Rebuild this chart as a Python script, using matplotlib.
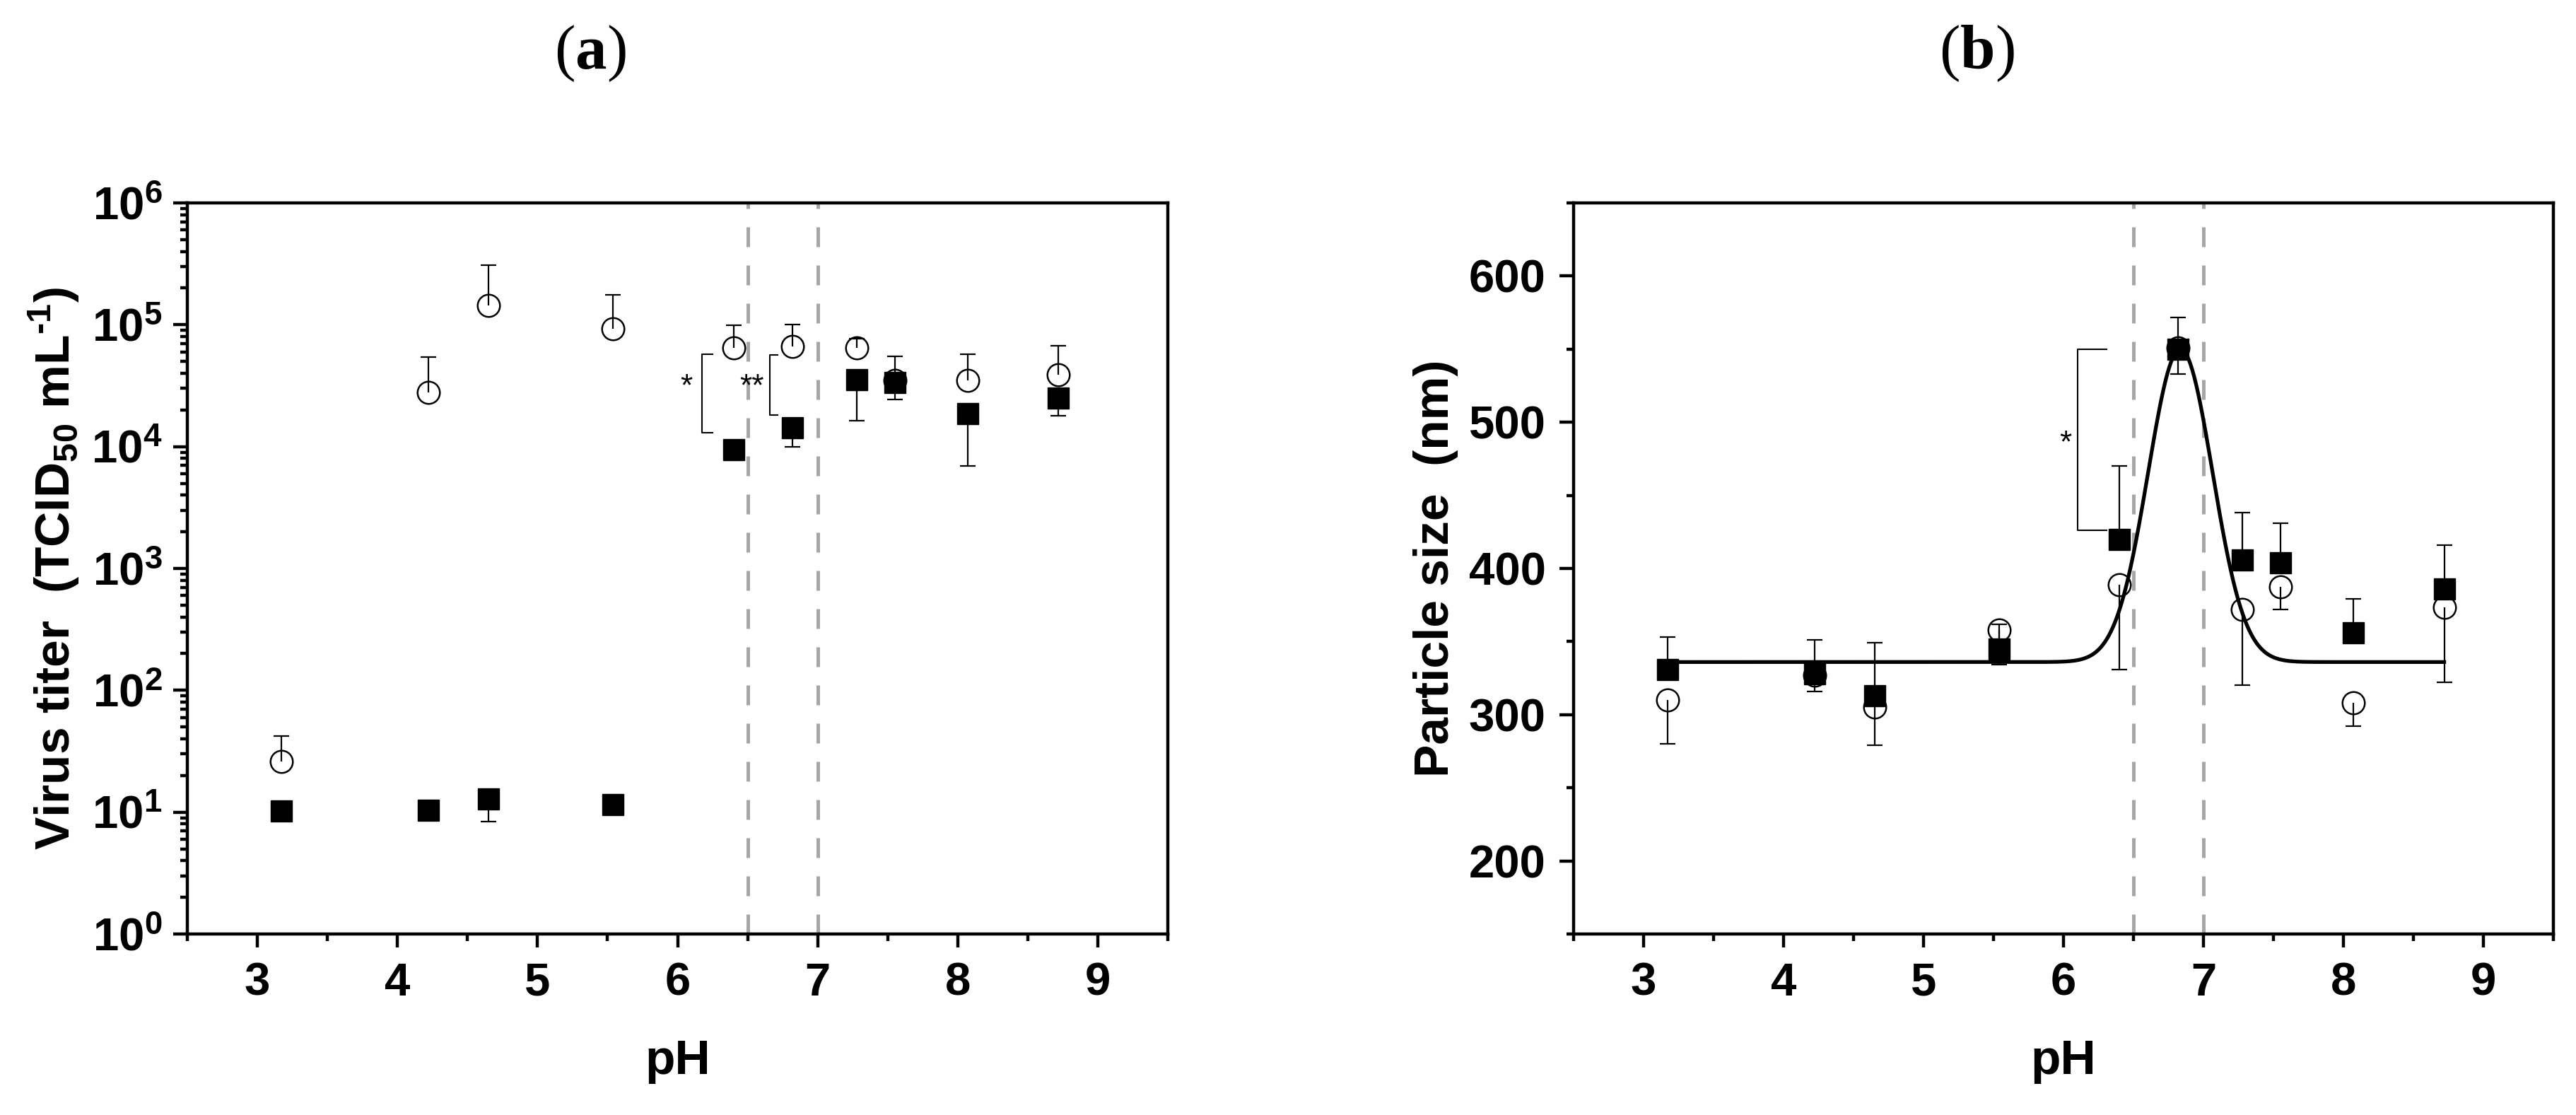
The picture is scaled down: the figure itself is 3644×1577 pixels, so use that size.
import numpy as np
import matplotlib
matplotlib.use("Agg")
import matplotlib.pyplot as plt
from matplotlib.ticker import MultipleLocator, LogLocator, NullFormatter

plt.rcParams['font.family'] = ['Liberation Sans', 'DejaVu Sans']
plt.rcParams['font.weight'] = 'bold'
plt.rcParams['mathtext.fontset'] = 'custom'
plt.rcParams['mathtext.bf'] = 'Liberation Serif:bold'
plt.rcParams['mathtext.rm'] = 'Liberation Sans:bold'

# ---------------- data ----------------
pH = np.array([3.17, 4.22, 4.65, 5.54, 6.40, 6.82, 7.28, 7.55, 8.07, 8.72])

# panel (a): virus titer (TCID50/mL)
titer_circle = np.array([26, 2.8e4, 1.45e5, 9.3e4, 6.5e4, 6.6e4, 6.5e4, 3.5e4, 3.5e4, 3.9e4])
titer_circle_hi = np.array([42, 5.4e4, 3.1e5, 1.75e5, 9.9e4, 1.01e5, 7.7e4, 5.5e4, 5.7e4, 6.7e4])
titer_square = np.array([10.2, 10.3, 12.9, 11.6, 9.5e3, 1.42e4, 3.56e4, 3.34e4, 1.86e4, 2.5e4])
titer_square_lo = np.array([np.nan, np.nan, 8.4, np.nan, np.nan, 1.0e4, 1.64e4, 2.43e4, 6.98e3, 1.8e4])

# panel (b): particle size (nm)
size_square = np.array([331, 328, 313, 345, 420, 550, 406, 404, 356, 386])
size_square_hi = np.array([353, 351, 349, 362, 470, 571.5, 438, 431, 379, 416])
size_circle = np.array([310, 327, 305, 358, 389, 551, 372, 387.5, 308, 373.6])
size_circle_lo = np.array([280, 316, 279, 334, 331, 533, 320, 372, 292, 322])

# Gaussian fit parameters for panel (b)
fit_y0, fit_A, fit_xc, fit_sigma = 336.0, 214.0, 6.835, 0.23

boundary_pH = [6.5, 7.0]

# significance brackets: (x_vertical, y_top, y_bottom, x_tick_end, label, label_x, label_y)
brackets_a = [(6.176, 5.75e4, 1.295e4, 6.25, '*', 6.065, 3.72e4),
              (6.658, 5.68e4, 1.81e4, 6.715, '**', 6.53, 3.72e4)]
brackets_b = [(6.10, 550, 426, 6.31, '*', 6.015, 492)]

xticks = [3, 4, 5, 6, 7, 8, 9]

# ---------------- figure ----------------
W, H = 3644, 1577
fig = plt.figure(figsize=(W / 100, H / 100), dpi=100)
axA = fig.add_axes([265 / W, 1 - 1321 / H, 1387 / W, 1034 / H])
axB = fig.add_axes([2226 / W, 1 - 1321 / H, 1386 / W, 1034 / H])

for ax in (axA, axB):
    for s in ax.spines.values():
        s.set_linewidth(3.2)
    ax.set_xlim(2.5, 9.5)
    ax.xaxis.set_major_locator(MultipleLocator(1))
    ax.xaxis.set_minor_locator(MultipleLocator(0.5))
    ax.tick_params(which='major', direction='out', length=13.7, width=3.2,
                   labelsize=47, top=False, right=False)
    ax.tick_params(which='minor', direction='out', length=7, width=3.2,
                   top=False, right=False)
    ax.tick_params(axis='x', pad=15)
    for xv in boundary_pH:
        ax.axvline(xv, color='#a6a6a6', lw=3.6, ls=(0, (5.6, 5.2)), zorder=1)
    ax.set_xlabel('pH', fontsize=50, fontweight='bold')
    ax.xaxis.set_label_coords(0.5, -0.143)


def draw_err(ax, x, y0, y1):
    m = np.isfinite(y1)
    ax.vlines(x[m], y0[m], y1[m], color='k', lw=1.6, zorder=2)
    ax.plot(x[m], y1[m], ls='none', marker='_', ms=16.5, mew=1.6, color='k', zorder=2)


def draw_brackets(ax, brackets):
    for xv, yt, yb, xe, lab, lx, ly in brackets:
        ax.plot([xe, xv, xv, xe], [yt, yt, yb, yb], color='k', lw=1.5, zorder=2)
        ax.annotate(lab, xy=(lx, ly), xytext=(0, -0.58 * 32), textcoords='offset points',
                    ha='center', va='baseline', fontsize=32, fontweight='normal')


# ----- panel (a) -----
axA.set_yscale('log')
axA.set_ylim(1, 1e6)
axA.yaxis.set_major_locator(LogLocator(base=10, numticks=20))
axA.yaxis.set_minor_locator(LogLocator(base=10, subs=np.arange(2, 10), numticks=100))
axA.yaxis.set_minor_formatter(NullFormatter())
axA.tick_params(axis='y', which='major', length=14.4, pad=11)
axA.tick_params(axis='y', which='minor', length=7.2)
draw_err(axA, pH, titer_circle, titer_circle_hi)
draw_err(axA, pH, titer_square, titer_square_lo)
axA.plot(pH, titer_circle, ls='none', marker='o', ms=22.7, mfc='none', mec='k', mew=1.8, zorder=4)
axA.plot(pH, titer_square, ls='none', marker='s', ms=21, color='k', mew=1, zorder=5)
draw_brackets(axA, brackets_a)
axA.set_ylabel('Virus titer  (TCID$_{\\mathdefault{50}}$ mL$^{\\mathdefault{\u2010 1}}$)'.replace('\u2010 ', '\u2010'),
               fontsize=50, fontweight='bold', ha='center', va='center',
               rotation_mode='default')
axA.yaxis.set_label_coords(-0.1363, 0.5)

# ----- panel (b) -----
axB.set_ylim(150, 650)
axB.yaxis.set_major_locator(MultipleLocator(100))
axB.yaxis.set_minor_locator(MultipleLocator(50))
axB.tick_params(axis='y', which='major', length=14.4, pad=14)
axB.tick_params(axis='y', which='minor', length=7.2)
draw_err(axB, pH, size_square, size_square_hi)
draw_err(axB, pH, size_circle, size_circle_lo)
xf = np.linspace(pH.min(), pH.max(), 800)
yf = fit_y0 + fit_A * np.exp(-(xf - fit_xc) ** 2 / (2 * fit_sigma ** 2))
axB.plot(xf, yf, color='k', lw=3.8, zorder=3)
axB.plot(pH, size_circle, ls='none', marker='o', ms=22.7, mfc='none', mec='k', mew=1.8, zorder=4)
axB.plot(pH, size_square, ls='none', marker='s', ms=21, color='k', mew=1, zorder=5)
draw_brackets(axB, brackets_b)
axB.set_ylabel('Particle size  (nm)', fontsize=50, fontweight='bold',
               ha='center', va='center', rotation_mode='default')
axB.yaxis.set_label_coords(-0.1407, 0.5)

for ax in (axA, axB):
    ax.set_xticks(xticks)

# panel titles
for xc, lab in ((835, 'a'), (2796, 'b')):
    fig.text(xc / W, 1 - 97 / H, '($\\mathbf{%s}$)' % lab, ha='center', va='baseline',
             fontsize=64, family='Liberation Serif', fontweight='normal')

fig.savefig('out.png', dpi=100)
